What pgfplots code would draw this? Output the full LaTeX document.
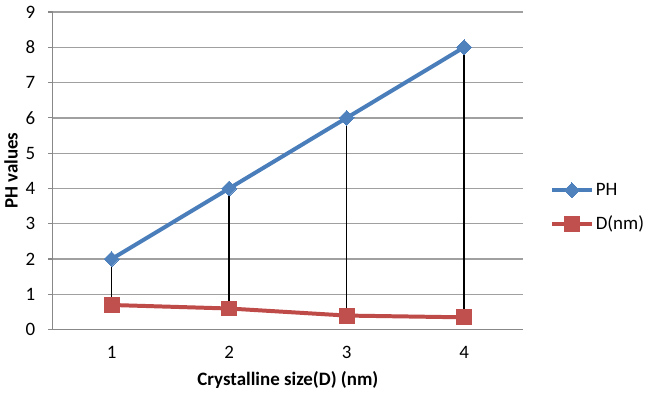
\documentclass[border=0pt]{standalone}
\usepackage{pgfplots}
\pgfplotsset{compat=1.18}
\usepackage{fontspec}
\setmainfont{Carlito}
\definecolor{phblue}{HTML}{4A7EBB}
\definecolor{phmark}{HTML}{4F81BD}
\definecolor{dred}{HTML}{BE4B48}
\definecolor{dmark}{HTML}{C0504D}
\definecolor{gridgray}{HTML}{A0A0A0}
\definecolor{axgray}{HTML}{888888}
\begin{document}
\begin{tikzpicture}
\begin{axis}[
  at={(0,0)}, anchor=south west,
  scale only axis, width=472pt, height=319pt,
  xmin=0.5, xmax=4.5, ymin=0, ymax=9,
  xtick={1,2,3,4}, ytick={0,1,...,9},
  /pgf/number format/assume math mode=true,
  tick label style={font=\fontsize{19}{22}\selectfont},
  xtick style={draw=none},
  ytick style={draw=axgray, line width=1.2pt},
  tick align=outside, major tick length=5pt,
  ymajorgrids, major grid style={draw=gridgray, line width=1.3pt},
  axis lines*=left,
  axis line style={draw=axgray, line width=1.3pt, -},
  x axis line style={-}, y axis line style={-},
  xlabel={\textbf{Crystalline size(D) (nm)}},
  ylabel={\textbf{PH values}},
  label style={font=\fontsize{19}{22}\selectfont},
  xlabel style={at={(0.5,0)}, anchor=center, yshift=-50pt},
  ylabel style={at={(0,0.5)}, anchor=center, rotate=0, yshift=42pt},
  xticklabel style={anchor=center, yshift=-18pt},
  yticklabel style={anchor=east, xshift=-9pt},
  clip=false,
  legend style={at={(1.0,0.385)}, anchor=west, xshift=27pt, draw=none, fill=none,
    font=\fontsize{19}{22}\selectfont, row sep=15pt, inner sep=0pt,
    nodes={inner sep=2pt}},
  legend cell align=left,
  legend image code/.code={\draw[#1] (0pt,0pt) -- (40pt,0pt); \path[#1,mark repeat=2,mark phase=2] plot coordinates {(0pt,0pt) (20pt,0pt) (40pt,0pt)};},
]
\addplot[forget plot, black, line width=1.5pt] coordinates {(1,0.7) (1,2)};
\addplot[forget plot, black, line width=1.5pt] coordinates {(2,0.6) (2,4)};
\addplot[forget plot, black, line width=1.5pt] coordinates {(3,0.4) (3,6)};
\addplot[forget plot, black, line width=1.5pt] coordinates {(4,0.35) (4,8)};
\addplot[color=phblue, line width=4pt, mark=diamond*, mark size=7.5pt,
  mark options={fill=phmark, draw=phmark, line width=0pt, xscale=1.333}] coordinates {(1,2) (2,4) (3,6) (4,8)};
\addlegendentry{PH}
\addplot[color=dred, line width=4pt, mark=square*, mark size=7.5pt,
  mark options={fill=dmark, draw=dmark, line width=0pt}] coordinates {(1,0.7) (2,0.6) (3,0.4) (4,0.35)};
\addlegendentry{D(nm)}
\end{axis}
\path (-53pt,-66pt) rectangle ++(646pt,397pt);
\end{tikzpicture}
\end{document}
